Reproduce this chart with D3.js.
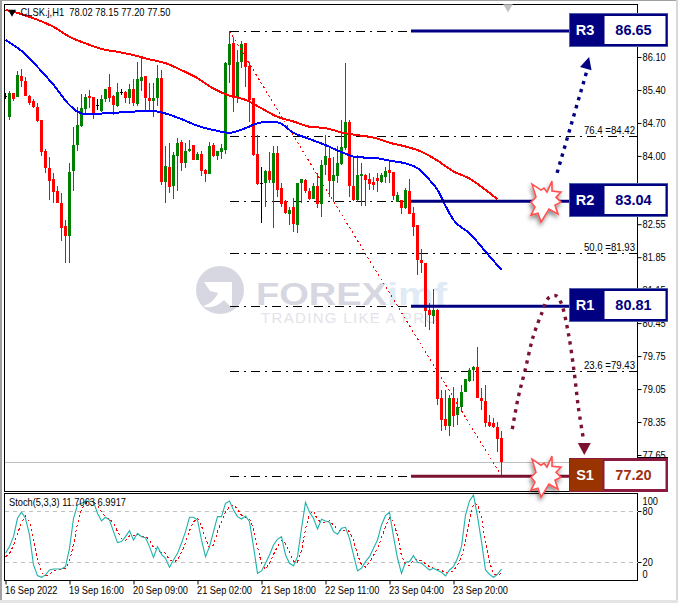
<!DOCTYPE html>
<html><head><meta charset="utf-8">
<script src="https://cdn.jsdelivr.net/npm/d3@7"></script>
<style>
html,body{margin:0;padding:0;background:#fff;overflow:hidden}
text{font-family:"Liberation Sans",Arial,sans-serif}
.tick text{font-size:10px;fill:#000}
</style></head><body>
<svg id="c" width="678" height="603"></svg>
<script>
const title = "CLSK.j,H1  78.02 78.15 77.20 77.50";
const stochTitle = "Stoch(5,3,3) 11.7063 6.9917";
const opens = [85.27,84.83,85.34,85.26,85.70,85.59,85.27,85.17,85.03,84.76,84.10,83.74,83.51,83.26,83.01,82.51,82.29,83.67,84.23,84.64,85.00,85.27,85.25,85.08,84.96,85.21,85.46,85.27,85.06,85.35,85.36,85.22,85.43,85.10,85.59,85.70,85.24,85.17,85.22,85.65,83.45,83.76,83.36,84.00,84.30,83.84,84.10,84.23,83.91,84.04,83.70,83.62,84.23,84.00,84.08,84.13,85.93,86.40,85.24,86.00,86.39,85.91,85.22,84.05,83.42,83.42,83.69,83.42,84.07,83.31,83.05,82.77,82.92,82.53,83.42,83.49,83.26,83.08,83.36,82.98,83.81,83.96,83.47,83.58,83.83,84.16,84.71,83.36,83.06,83.58,83.59,83.51,83.45,83.54,83.44,83.56,83.70,83.66,83.03,83.06,82.89,83.26,82.78,82.53,81.80,81.72,80.73,80.61,80.73,78.87,78.41,78.27,78.85,78.50,78.66,78.98,79.23,79.45,79.51,78.87,78.80,78.36,78.34,78.25,78.02];
const highs = [85.33,85.38,85.34,85.81,85.84,85.67,85.29,85.20,85.12,84.76,84.14,83.97,83.64,83.36,83.21,82.64,83.84,84.62,85.03,85.31,85.31,85.40,85.26,85.20,85.29,85.43,85.74,85.29,85.54,85.43,85.38,85.53,85.63,86.00,86.07,85.70,85.54,85.54,85.94,85.82,84.21,84.27,84.09,84.39,84.34,84.27,84.34,84.23,84.09,84.11,83.73,84.30,84.27,84.10,84.25,86.00,86.64,86.53,86.25,86.43,86.39,86.00,85.22,84.44,83.77,83.70,84.09,84.21,84.20,83.42,83.06,82.92,83.10,83.42,83.52,83.52,83.31,83.42,83.63,83.91,84.44,84.16,83.98,84.20,84.76,85.97,84.76,83.97,84.02,83.86,83.62,83.63,83.56,83.64,83.63,83.77,83.91,83.66,83.24,83.06,83.31,83.50,82.92,82.53,82.02,81.72,80.87,81.17,80.74,79.03,79.03,78.92,79.10,78.85,79.13,79.26,79.49,79.53,79.94,79.07,79.13,78.50,78.43,78.36,78.15];
const lows = [85.20,84.76,85.17,85.26,85.47,85.27,85.08,85.01,84.73,84.00,83.64,83.06,82.99,82.99,82.20,81.72,81.73,83.26,84.11,84.62,84.90,85.01,84.78,84.97,84.94,85.15,85.15,84.87,85.03,85.29,85.12,85.10,85.05,85.06,85.38,84.96,84.96,84.83,85.05,83.38,82.99,83.22,83.09,83.26,83.67,83.74,84.09,83.91,83.91,83.57,83.45,83.62,83.98,83.91,83.93,84.05,85.54,84.94,85.12,85.86,85.47,84.73,84.00,83.38,82.57,82.92,83.42,82.48,83.13,82.92,82.77,82.53,82.39,82.37,83.01,83.22,83.07,83.08,82.89,82.71,83.59,83.13,83.03,83.42,83.80,84.13,83.13,83.05,83.03,82.94,82.94,83.28,83.28,83.24,83.42,83.43,83.43,83.06,83.03,82.77,82.87,82.77,82.29,81.47,81.51,80.37,80.30,80.44,78.71,78.17,78.18,78.05,78.25,78.29,78.57,78.98,79.21,79.23,78.85,78.61,78.25,78.24,78.22,77.72,77.20];
const closes = [85.27,85.34,85.20,85.72,85.59,85.27,85.12,85.03,84.74,84.08,83.75,83.47,83.24,82.99,82.48,82.30,83.66,84.23,84.65,85.01,85.26,85.24,84.87,85.08,85.20,85.43,85.24,85.08,85.35,85.35,85.24,85.43,85.12,85.63,85.67,85.24,85.17,85.24,85.65,83.45,83.79,83.35,84.02,84.28,83.86,84.11,84.15,83.91,84.04,83.69,83.62,84.21,84.00,84.10,84.16,85.98,86.38,85.27,86.00,86.38,85.88,85.19,84.02,83.40,83.42,83.69,83.49,84.07,83.28,82.97,82.78,82.85,82.55,83.42,83.51,83.26,83.08,83.36,82.98,83.81,84.00,83.47,83.59,83.84,84.18,84.73,83.37,83.06,83.59,83.62,83.49,83.40,83.38,83.47,83.59,83.69,83.64,83.15,83.17,82.89,83.28,82.77,82.50,81.79,81.73,80.71,80.62,80.73,78.84,78.39,78.27,78.85,78.48,78.66,78.99,79.26,79.45,79.51,78.85,78.80,78.34,78.27,78.25,78.00,77.50];

const maBars = [0,4,8,12,16,20,24,28,32,36,40,44,48,52,56,60,64,68,72,76,80,84,88,92,96,100,104,108,112,116,120,123];
const maRed = [87.10,87.01,86.89,86.74,86.53,86.39,86.27,86.21,86.14,86.05,85.97,85.82,85.65,85.43,85.28,85.19,85.01,84.83,84.73,84.62,84.59,84.50,84.44,84.39,84.28,84.20,84.09,83.90,83.67,83.52,83.28,83.08];
const blueBars = [0,4,8,12,16,18,20,24,28,32,36,40,44,48,52,56,60,64,68,72,76,80,84,88,92,96,100,103,106,108,110,112,116,120,124];
const maBlue = [86.46,86.23,85.89,85.51,85.08,84.94,84.89,84.90,84.92,84.94,84.96,84.90,84.78,84.64,84.55,84.49,84.59,84.71,84.71,84.49,84.36,84.23,84.08,83.97,83.96,83.90,83.84,83.74,83.49,83.28,82.94,82.64,82.36,81.97,81.58];

const stochMain = [30.2,38.1,49.8,71.4,78.5,71.4,51.8,16.5,4.0,2.0,4.8,10.6,11.8,11.8,11.8,14.6,36.1,71.4,87.1,89,91,91.8,91,77.3,68.3,72.6,69.4,55.7,42.8,44,49.8,56.9,45.9,53.8,49.8,48.7,38.1,25.5,38.1,29,24.4,13.8,22.4,30.2,42,55.7,72.6,72.6,69.4,45.9,26.3,38.1,55.7,73.4,73.4,89,91.8,81.2,73.4,70.6,74.1,67.5,38.1,6.7,9.5,18.5,28.3,40,46.7,49.8,28.3,18.5,15.3,26.3,59.6,90.2,78.5,71.4,58.9,70.2,68.3,66.7,55.7,52.6,59.6,60.8,47.9,28.3,9.5,12.6,20.4,26.3,36.1,45.9,63.6,74.5,78.5,49.8,24.4,6.7,19.7,20.4,27.5,19.7,18.5,14.6,10.6,12.6,9.9,7.9,3.6,10.6,14.6,24.4,38.1,75.3,91.8,98.8,73.4,44,10.6,5.5,2,5.5,11.7];
const stochSignal = [26,30,39.4,53.1,66.6,73.8,67.2,46.6,24.1,7.5,3.6,5.8,9.1,11.4,11.8,12.7,20.8,40.7,64.9,82.5,89,90.6,91.3,86.7,78.9,72.7,70.4,65.6,56,47.5,45.5,50.6,50.8,52.6,49.7,50.8,45.5,37.3,33.9,30.9,30.5,22.4,20.2,22.1,31.5,42.6,56.8,67,71.5,62.6,47.2,36.8,40,55.7,67.5,78.6,84.7,87.3,82.1,75,72.7,70.7,59.9,37.4,18.1,11.6,18.8,28.9,38.3,45.5,41.6,32.2,20.7,20,33.7,58.7,76.1,80,69.6,66.8,66.5,68.4,63.6,58.3,56,57.7,56.1,45.7,28.6,16.8,14.2,19.8,27.6,36.1,48.5,61.3,72.2,67.6,50.9,27,17,15.6,22.6,22.6,22,17.6,14.6,12.6,11,10.1,7.1,7.4,9.6,16.5,25.8,45.9,68.4,88.6,88,72,42.7,20,6,4.4,7];

const priceTicks = [86.10,85.40,84.70,84.00,83.25,82.55,81.85,81.15,80.45,79.75,79.05,78.35,77.65];
const stochTicks = [100,80,20,0];
const timeTickBars = [0,16,32,48,64,80,96,112];
const timeLabels = ["16 Sep 2022","19 Sep 16:00","20 Sep 09:00","21 Sep 02:00","21 Sep 18:00","22 Sep 11:00","23 Sep 04:00","23 Sep 20:00"];

const fiboPct = ["100.0","76.4","61.8","50.0","38.2","23.6","0.0"];
const fiboVal = [86.65,84.42,83.04,81.93,80.81,79.43,77.20];
const fiboShown = ["76.4","50.0","23.6"];
const levelNames = ["R3","R2","R1","S1"];
const levelVals = [86.65,83.04,80.81,77.20];
const swingBars = [56,124];
const swingVals = [86.65,77.20];
const arrowUpBars = [137.9,145.4];
const arrowUpVals = [83.64,85.82];
const forecastBars = [126.7,128.2,129.9,131.9,134.2,135.7,137.7,138.9,140.7,142.2,143.2,144.4];
const forecastVals = [78.20,78.88,79.45,80.16,80.69,80.98,81.03,80.88,80.24,79.39,78.67,78.03];
const burstOffsets = [[-14,-17],[-5,-11],[-2,-13],[1,-9],[6,-20],[6,-10],[15,-9],[10,-4],[15,1],[9,4],[12,13],[3,8],[-5,21],[-8,12],[-15,14],[-11,6],[-15,1],[-10,-4]];

const svg = d3.select("#c");
const x = d3.scaleLinear().domain([0,1]).range([5.5,9.5]);
const y = d3.scaleLinear().domain([86.10,77.65]).range([57,455]);
const ys = d3.scaleLinear().domain([0,100]).range([579,494]);
const L=4.5,R=637.5,T=4.5,B=491.5,ST=493.5,SB=580.5;
const squeeze = sel => sel.each(function(){ const w=this.getComputedTextLength(); d3.select(this).attr("textLength",(w*0.925).toFixed(1)).attr("lengthAdjust","spacingAndGlyphs"); });

// window chrome
svg.append("rect").attr("width",678).attr("height",603).attr("fill","#fff");
svg.append("rect").attr("x",0).attr("y",0).attr("width",2).attr("height",603).attr("fill","#a0a0a0");
svg.append("rect").attr("x",0).attr("y",0).attr("width",678).attr("height",1).attr("fill","#a0a0a0");
svg.append("rect").attr("x",676).attr("y",0).attr("width",2).attr("height",603).attr("fill","#d8d8d8");
svg.append("rect").attr("x",0).attr("y",600).attr("width",678).attr("height",3).attr("fill","#e4e4e4");

const defs = svg.append("defs");
defs.append("clipPath").attr("id","main").append("rect").attr("x",L).attr("y",T).attr("width",R-L).attr("height",B-T);
defs.append("filter").attr("id","sh").attr("x","-30%").attr("y","-30%").attr("width","170%").attr("height","170%")
  .append("feDropShadow").attr("dx",-1).attr("dy",3).attr("stdDeviation",2).attr("flood-color","#000").attr("flood-opacity",.45);

// watermark
const wm = svg.append("g");
wm.append("circle").attr("cx",220).attr("cy",290).attr("r",24).attr("fill","#d7d7e1");
wm.append("path").attr("d","M204 282 H232 V308 L224 300 C218 306 210 309 203 306 C211 304 216 298 218 293 L210 291 Z").attr("fill","#fff");
wm.append("text").attr("x",256).attr("y",305).attr("font-size",32).attr("font-weight","bold").attr("fill","#d7d7e1").attr("textLength",131).attr("lengthAdjust","spacingAndGlyphs").text("FOREX");
wm.append("text").attr("x",387).attr("y",305).attr("font-size",32).attr("font-weight","bold").attr("fill","#e0ebf5").attr("textLength",60).attr("lengthAdjust","spacingAndGlyphs").text("imf");
wm.append("text").attr("x",261).attr("y",323).attr("font-size",15).attr("fill","#e3e3ea").attr("textLength",176).text("TRADING LIKE A PRO");

// bid line
svg.append("line").attr("x1",L).attr("x2",R).attr("y1",y(77.50)).attr("y2",y(77.50)).attr("stroke","#c0c0c0").attr("shape-rendering","crispEdges");

const main = svg.append("g").attr("clip-path","url(#main)");

// fibo levels
main.selectAll("line.fib").data(fiboVal).join("line").attr("class","fib")
  .attr("x1",x(56)).attr("x2",R-1).attr("y1",d=>Math.round(y(d))+.5).attr("y2",d=>Math.round(y(d))+.5)
  .attr("stroke","#000").attr("stroke-dasharray","9,5,2,5").attr("shape-rendering","crispEdges");
main.selectAll("text.fib").data(fiboVal.filter((d,i)=>fiboShown.includes(fiboPct[i]))).join("text").attr("class","fib")
  .attr("x",635).attr("y",d=>y(d)-2.5).attr("text-anchor","end").attr("font-size",10).attr("fill","#000")
  .attr("textLength",51).attr("lengthAdjust","spacingAndGlyphs")
  .text(d=>fiboPct[fiboVal.indexOf(d)]+" ="+d.toFixed(2));

// candles
const bars = d3.range(opens.length);
const col = i=> closes[i]>opens[i] ? "#008000" : closes[i]<opens[i] ? "#ff0000" : "#000";
const cg = main.append("g").attr("shape-rendering","crispEdges");
cg.selectAll("line").data(bars).join("line")
  .attr("x1",x).attr("x2",x).attr("y1",i=>y(highs[i])).attr("y2",i=>y(lows[i])).attr("stroke",col);
cg.selectAll("rect").data(bars).join("rect")
  .attr("x",i=>x(i)-1.5).attr("width",3)
  .attr("y",i=>y(Math.max(opens[i],closes[i])))
  .attr("height",i=>Math.max(1,Math.abs(y(opens[i])-y(closes[i]))))
  .attr("fill",col);

// diagonal fibo trend
main.append("line").attr("x1",x(swingBars[0])).attr("y1",y(swingVals[0])).attr("x2",x(swingBars[1])).attr("y2",y(swingVals[1]))
  .attr("stroke","#ff0000").attr("stroke-dasharray","2,3").attr("shape-rendering","crispEdges");

// moving averages
const maLine = (bs,vs)=>d3.line().x((d,i)=>x(bs[i])).y(d=>y(d)).curve(d3.curveMonotoneX)(vs);
main.append("path").attr("d",maLine(maBars,maRed)).attr("fill","none").attr("stroke","#ff0000").attr("stroke-width",2).attr("shape-rendering","crispEdges");
main.append("path").attr("d",maLine(blueBars,maBlue)).attr("fill","none").attr("stroke","#0000ff").attr("stroke-width",2).attr("shape-rendering","crispEdges");

// title
svg.append("path").attr("d",d3.symbol(d3.symbolTriangle,28)()).attr("transform","translate(12,12) rotate(180)").attr("fill","#000");
svg.append("text").attr("x",20.5).attr("y",16).attr("font-size",10.5).attr("fill","#000").attr("xml:space","preserve").attr("textLength",150).attr("lengthAdjust","spacingAndGlyphs").text(title);

// frames
[[L,T,R-L,B-T],[L,ST,R-L,SB-ST]].forEach(r=>svg.append("rect").attr("x",r[0]).attr("y",r[1]).attr("width",r[2]).attr("height",r[3]).attr("fill","none").attr("stroke","#000").attr("shape-rendering","crispEdges"));

// axes
const ax = svg.append("g").attr("transform",`translate(${R},0)`).call(d3.axisRight(y).tickValues(priceTicks).tickFormat(d3.format(".2f")).tickSize(4).tickPadding(1));
ax.select(".domain").remove();
ax.selectAll(".tick line").attr("stroke","#000");
ax.selectAll(".tick").filter(d=>d===83.25).select("text").remove();
squeeze(ax.selectAll("text"));
const ax2 = svg.append("g").attr("transform",`translate(${R},0)`).call(d3.axisRight(ys).tickValues(stochTicks).tickFormat(d3.format("d")).tickSize(4).tickPadding(1));
ax2.select(".domain").remove();
ax2.selectAll(".tick").filter(d=>d===0||d===100).select("line").remove();
ax2.selectAll(".tick").filter(d=>d===100).select("text").attr("dy","10").attr("x",5);
ax2.selectAll(".tick").filter(d=>d===0).select("text").attr("dy","-2").attr("x",5);
squeeze(ax2.selectAll("text"));
const axT = svg.append("g").attr("transform",`translate(0,${SB})`).call(d3.axisBottom(x).tickValues(timeTickBars).tickFormat((d,i)=>timeLabels[i]).tickSize(4).tickPadding(0));
axT.select(".domain").remove();
axT.selectAll("text").attr("text-anchor","start").attr("dy","0.95em").attr("dx",-1);
squeeze(axT.selectAll("text"));

// bid tag
svg.append("rect").attr("x",638).attr("y",457).attr("width",30).attr("height",11).attr("fill","#000");

// stochastic
[80,20].forEach(v=>svg.append("line").attr("x1",L).attr("x2",R).attr("y1",Math.round(ys(v))+.5).attr("y2",Math.round(ys(v))+.5).attr("stroke","#c0c0c0").attr("stroke-dasharray","4,4").attr("shape-rendering","crispEdges"));
const sl = d3.line().x((d,i)=>x(i)).y(d=>ys(d));
svg.append("path").attr("d",sl(stochSignal)).attr("fill","none").attr("stroke","#ff0000").attr("stroke-dasharray","2.5,2.5").attr("shape-rendering","crispEdges");
svg.append("path").attr("d",sl(stochMain)).attr("fill","none").attr("stroke","#20b2aa").attr("stroke-width",1.1);
svg.append("text").attr("x",9).attr("y",506).attr("font-size",10).attr("fill","#000").attr("textLength",117).attr("lengthAdjust","spacingAndGlyphs").text(stochTitle);

// level lines
const levelCol = n=> n[0]==="S" ? "#7b1230" : "#000080";
svg.selectAll("line.lvl").data(levelVals).join("line").attr("class","lvl")
  .attr("x1",411).attr("x2",571).attr("y1",d=>y(d)).attr("y2",d=>y(d))
  .attr("stroke",(d,i)=>levelCol(levelNames[i])).attr("stroke-width",3);

// forecast arrows
const fore = d3.line().x((d,i)=>x(forecastBars[i])).y(d=>y(d)).curve(d3.curveCatmullRom)(forecastVals);
svg.append("path").attr("d",fore).attr("fill","none").attr("stroke","#7b1230").attr("stroke-width",3.4).attr("stroke-dasharray","3.4,5");
const tri=(px,py,w,h,rot,c)=>svg.append("path").attr("d",`M0 0L${-w/2} ${-h}L${w/2} ${-h}Z`).attr("transform",`translate(${px},${py}) rotate(${rot})`).attr("fill",c);
tri(x(144.7),y(77.65),13,12,0,"#7b1230");
svg.append("line").attr("x1",x(arrowUpBars[0])).attr("y1",y(arrowUpVals[0])).attr("x2",x(arrowUpBars[1])).attr("y2",y(arrowUpVals[1]))
  .attr("stroke","#000080").attr("stroke-width",3.4).attr("stroke-dasharray","3.4,5");
tri(x(145.9),y(86.10),12,12,196,"#000080");

// bursts
[83.04,77.20].forEach(v=>{
  svg.append("polygon").attr("points",burstOffsets.map(p=>[546+p[0],y(v)+p[1]].join(",")).join(" "))
    .attr("fill","#fff").attr("stroke","#ff5050").attr("stroke-width",1.6).attr("filter","url(#sh)");
});

// level boxes
levelNames.forEach((n,i)=>{
  const yy=y(levelVals[i]), top=Math.round(yy)-17.5;
  const sup=n[0]==="S";
  const fill=sup?"#993300":"#000080", edge=sup?"#8b1a40":"#5060a8", inner=sup?"#8b1a40":"#000080", txt=sup?"#a03010":"#000080";
  const g=svg.append("g");
  g.append("rect").attr("x",569.5).attr("y",top).attr("width",98).attr("height",33).attr("fill",fill).attr("stroke",edge);
  g.append("rect").attr("x",603.5).attr("y",top+1.5).attr("width",63).attr("height",30).attr("fill","#fff").attr("stroke",inner).attr("stroke-width",2);
  g.append("text").attr("x",585).attr("y",top+21.5).attr("text-anchor","middle").attr("font-size",14.5).attr("font-weight","bold").attr("fill","#fff").text(n);
  g.append("text").attr("x",633.5).attr("y",top+21.5).attr("text-anchor","middle").attr("font-size",14.5).attr("font-weight","bold").attr("fill",txt).text(levelVals[i].toFixed(2));
});

// top scroll marker
svg.append("path").attr("d",d3.symbol(d3.symbolTriangle,40)()).attr("transform","translate(508,7) rotate(180)").attr("fill","#c4c4c4");
</script>
</body></html>
